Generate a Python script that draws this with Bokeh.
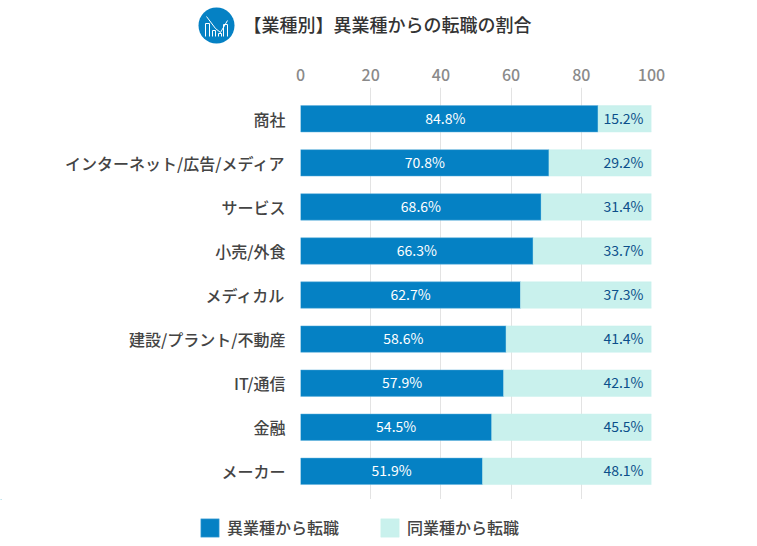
from bokeh.plotting import figure
from bokeh.layouts import column
from bokeh.embed import file_html
from bokeh.resources import INLINE
from bokeh.models import ColumnDataSource, Range1d, FixedTicker, Legend, LegendItem
from bokeh.core.properties import value

categories = ["商社", "インターネット/広告/メディア", "サービス", "小売/外食", "メディカル",
              "建設/プラント/不動産", "IT/通信", "金融", "メーカー"]
other_industry = [84.8, 70.8, 68.6, 66.3, 62.7, 58.6, 57.9, 54.5, 51.9]
same_industry = [15.2, 29.2, 31.4, 33.7, 37.3, 41.4, 42.1, 45.5, 48.1]
x_ticks = [0, 20, 40, 60, 80, 100]
title_text = "【業種別】異業種からの転職の割合"
series_names = ["異業種から転職", "同業種から転職"]

BLUE = "#0581c4"
MINT = "#c9f1ed"
FONT = "Noto Sans CJK JP Medium"
FONT_R = "Noto Sans CJK JP"
W, H = 757, 546
HEAD_H, FOOT_H = 50, 47


def blank(height, top, bottom):
    f = figure(width=W, height=height, output_backend="svg", toolbar_location=None,
               x_range=Range1d(0, W), y_range=Range1d(bottom, top),
               x_axis_type=None, y_axis_type=None, frame_align=False,
               min_border_left=0, min_border_right=0, min_border_top=0, min_border_bottom=0)
    f.outline_line_color = None
    f.background_fill_color = None
    f.border_fill_color = None
    f.grid.visible = False
    return f


# header: icon and title
head = blank(HEAD_H, 0, HEAD_H)
head.scatter([216], [25], marker="circle", size=36, fill_color=BLUE, line_color=None)
for xs, ys in [
    ([205, 205, 209, 209], [36, 23, 23, 36]),
    ([212, 212, 215, 215], [36, 30, 30, 36]),
    ([218, 218, 221, 221], [36, 33, 33, 36]),
    ([223, 223, 227, 227], [36, 24, 24, 36]),
    ([206, 215, 220, 227], [16, 28, 32, 20]),
]:
    head.line(xs, ys, line_color="#ffffff", line_width=1)
head.text([243], [23], text=[title_text], text_baseline="middle", text_font=value(FONT),
          text_font_size="18px", text_color="#333333")

# main chart
rows = list(range(len(categories)))
label_shift = [-4, 0, 0, 0, 0, 0, 0, 0, 0]
src = ColumnDataSource(dict(
    y=rows, other=other_industry, same=same_industry,
    other_lab=[f"{v:.1f}%" for v in other_industry],
    same_lab=[f"{v:.1f}%" for v in same_industry],
    other_mid=[v / 2 for v in other_industry],
    shift=label_shift,
    right=[100.0] * len(rows),
))

p = figure(width=W, height=H - HEAD_H - FOOT_H, output_backend="svg", toolbar_location=None,
           x_range=Range1d(0, 100), y_range=Range1d(8.64, -0.71),
           x_axis_location="above", frame_align=False,
           min_border_left=300, min_border_right=106, min_border_top=87 - HEAD_H, min_border_bottom=0)
p.outline_line_color = None
p.background_fill_color = None
p.border_fill_color = None

p.xgrid.ticker = FixedTicker(ticks=x_ticks)
p.xgrid.grid_line_color = "#e3e3e3"
p.xgrid.grid_line_width = 1
p.ygrid.visible = False

xa = p.xaxis[0]
xa.ticker = FixedTicker(ticks=x_ticks)
xa.axis_line_color = None
xa.major_tick_line_color = None
xa.minor_tick_line_color = None
xa.major_label_standoff = 1
xa.major_label_text_font = FONT
xa.major_label_text_font_size = "16px"
xa.major_label_text_color = "#8a8a8a"

ya = p.yaxis[0]
ya.ticker = FixedTicker(ticks=rows)
ya.major_label_overrides = {i: c for i, c in enumerate(categories)}
ya.axis_line_color = None
ya.major_tick_line_color = None
ya.minor_tick_line_color = None
ya.major_label_standoff = 9
ya.major_label_text_font = FONT
ya.major_label_text_font_size = "16px"
ya.major_label_text_color = "#444444"

p.hbar(y="y", left=0, right="other", height=0.6, source=src, fill_color=BLUE,
       line_color="#5fb0dc", line_width=0.5)
p.hbar(y="y", left="other", right="right", height=0.6, source=src, fill_color=MINT,
       line_color=MINT, line_width=0.5)

p.text(x="other_mid", y="y", text="other_lab", source=src, x_offset="shift", y_offset=-1, text_align="center",
       text_baseline="middle", text_font=value(FONT_R), text_font_size="14px", text_color="#ffffff")
p.text(x="right", y="y", text="same_lab", source=src, text_align="right", text_baseline="middle",
       x_offset=-8, y_offset=-1,
       text_font=value(FONT_R), text_font_size="14px", text_color="#0b4f8a")

# footer: legend (swatches come from off-canvas key glyphs so the legend draws them)
foot = blank(FOOT_H, 0, FOOT_H)
k1 = foot.hbar(y=[-50], left=[0], right=[1], height=1, fill_color=BLUE, line_color="#5fb0dc", line_width=0.5)
k2 = foot.hbar(y=[-50], left=[0], right=[1], height=1, fill_color=MINT, line_color=MINT, line_width=0.5)
legend = Legend(items=[LegendItem(label=series_names[0], renderers=[k1]),
                       LegendItem(label=series_names[1], renderers=[k2])],
                orientation="horizontal", location=(198, 7),
                background_fill_alpha=0, border_line_color=None, padding=0, margin=0,
                glyph_width=23, glyph_height=23, label_standoff=6, spacing=39,
                label_text_font=FONT, label_text_font_size="16px", label_text_color="#444444")
foot.add_layout(legend, "center")

page = column(head, p, foot, spacing=0)
open("out.html", "w").write(file_html(page, INLINE))
